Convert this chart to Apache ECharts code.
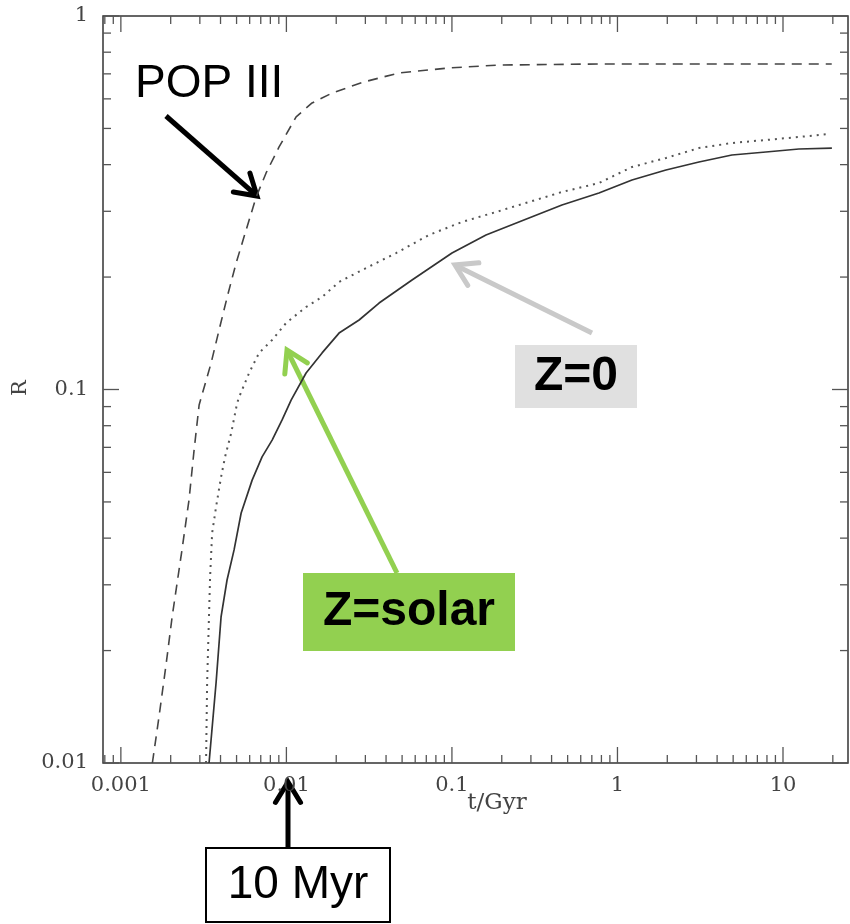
<!DOCTYPE html>
<html>
<head>
<meta charset="utf-8">
<script src="https://cdn.jsdelivr.net/npm/echarts@6/dist/echarts.min.js"></script>
<style>
  html, body { margin: 0; padding: 0; background: #fff; }
  #chart { width: 850px; height: 924px; }
</style>
</head>
<body>
<div id="chart"></div>
<script>
// Returned mass fraction R versus age t (Gyr)
const popT   = [0.00155, 0.00170, 0.00188, 0.00204, 0.00234, 0.00258, 0.00277, 0.00297, 0.00351, 0.00392, 0.00439, 0.00497, 0.00571, 0.00657, 0.00754, 0.00903, 0.01145, 0.01429, 0.0189, 0.0290, 0.0479, 0.0962, 0.192, 0.773, 19.7];
const popR   = [0.0100, 0.0133, 0.0185, 0.0246, 0.0372, 0.0506, 0.0689, 0.0909, 0.1178, 0.1443, 0.1769, 0.2182, 0.2673, 0.3276, 0.380, 0.446, 0.537, 0.585, 0.622, 0.665, 0.704, 0.726, 0.739, 0.744, 0.744];

const solarT = [0.00327, 0.00332, 0.00346, 0.00356, 0.00376, 0.00403, 0.00426, 0.00464, 0.00504, 0.00518, 0.00595, 0.00684, 0.00820, 0.00996, 0.01315, 0.01643, 0.0208, 0.0287, 0.0460, 0.0727, 0.1151, 0.1846, 0.292, 0.462, 0.773, 1.224, 1.963, 3.106, 4.914, 7.885, 12.48, 18.93];
const solarR = [0.0100, 0.0164, 0.0315, 0.0413, 0.0485, 0.0583, 0.0660, 0.0765, 0.0920, 0.0954, 0.1107, 0.1253, 0.1357, 0.1507, 0.1663, 0.1769, 0.1940, 0.2089, 0.2319, 0.2593, 0.2809, 0.2987, 0.3177, 0.3379, 0.3571, 0.3942, 0.4168, 0.4431, 0.4571, 0.4656, 0.4743, 0.4830];

const zeroT  = [0.00341, 0.00376, 0.00403, 0.00438, 0.00483, 0.00533, 0.00621, 0.00713, 0.00820, 0.00942, 0.01068, 0.01315, 0.01643, 0.0208, 0.0275, 0.0363, 0.0574, 0.1001, 0.1606, 0.292, 0.462, 0.773, 1.224, 1.963, 3.106, 4.914, 7.885, 12.48, 19.74];
const zeroR  = [0.0100, 0.0164, 0.0246, 0.0309, 0.0372, 0.0467, 0.0572, 0.0660, 0.0732, 0.0829, 0.0937, 0.1107, 0.1253, 0.1416, 0.1535, 0.1704, 0.1964, 0.2319, 0.2593, 0.2878, 0.3119, 0.3358, 0.3638, 0.3870, 0.4065, 0.4244, 0.4324, 0.4404, 0.4431];

// Axis ranges and decade labels
const xRange = [0.00078, 24.7];
const yRange = [0.01, 1];
const xTickLabels = ['0.001', '0.01', '0.1', '1', '10'];
const yTickLabels = ['0.01', '0.1', '1'];

const pairs = (xs, ys) => xs.map((x, i) => [x, ys[i]]);

// Inward ticks (major at decades, minor at 2..9) drawn on all four sides
function logTicks(lo, hi) {
  const out = [];
  for (let e = Math.floor(Math.log10(lo)); e <= Math.ceil(Math.log10(hi)); e++) {
    for (let m = 1; m <= 9; m++) {
      const v = m * Math.pow(10, e);
      if (v >= lo * 0.999 && v <= hi * 1.001) out.push([v, m === 1 ? 16 : 8]);
    }
  }
  return out;
}
const xTicks = logTicks(xRange[0], xRange[1]).map(d => [d[0], 0.05, d[1]]);
const yTicks = logTicks(yRange[0], yRange[1]).map(d => [0.01, d[0], d[1]]);

const tickStyle = { stroke: '#555', lineWidth: 1.3 };

function decadeLabel(labels, v) {
  const e = Math.round(Math.log10(v));
  const s = labels.find(l => Math.abs(Math.log10(parseFloat(l)) - e) < 1e-6);
  return s || '';
}

function arrow(x1, y1, x2, y2, color, w) {
  const a = Math.atan2(y2 - y1, x2 - x1);
  const L = 24, s = 0.55;
  return {
    type: 'group',
    z: 100,
    children: [
      { type: 'line', shape: { x1: x1, y1: y1, x2: x2 - 2 * Math.cos(a), y2: y2 - 2 * Math.sin(a) },
        style: { stroke: color, lineWidth: w, lineCap: 'butt' } },
      { type: 'polyline',
        shape: { points: [
          [x2 - L * Math.cos(a - s), y2 - L * Math.sin(a - s)],
          [x2, y2],
          [x2 - L * Math.cos(a + s), y2 - L * Math.sin(a + s)]
        ] },
        style: { stroke: color, lineWidth: w, fill: null, lineJoin: 'miter', lineCap: 'round' } }
    ]
  };
}

function boxLabel(x, y, w, h, fill, border, txt, bold) {
  return {
    type: 'group',
    z: 100,
    children: [
      { type: 'rect', shape: { x: x, y: y, width: w, height: h },
        style: { fill: fill, stroke: border || null, lineWidth: border ? 2 : 0 } },
      { type: 'text', x: x + w / 2, y: y + h / 2,
        style: { text: txt, fill: '#000', font: (bold ? 'bold 48px' : '46px') + ' "Liberation Sans", Arial, sans-serif',
                 align: 'center', verticalAlign: 'middle' } }
    ]
  };
}

const axisLabelFont = { fontFamily: '"DejaVu Serif", serif', fontSize: 21, color: '#444' };

const chart = echarts.init(document.getElementById('chart'), null, { renderer: 'canvas' });

chart.setOption({
  animation: false,
  backgroundColor: '#fff',
  grid: { left: 103, top: 16, width: 745, height: 747, show: true, borderColor: '#333', borderWidth: 1.5, backgroundColor: 'transparent' },
  xAxis: {
    type: 'log', logBase: 10, min: xRange[0], max: xRange[1],
    axisLine: { show: false }, axisTick: { show: false }, splitLine: { show: false },
    axisLabel: Object.assign({ margin: 12, showMinLabel: false, showMaxLabel: false,
      formatter: v => decadeLabel(xTickLabels, v) }, axisLabelFont)
  },
  yAxis: {
    type: 'log', logBase: 10, min: yRange[0], max: yRange[1],
    axisLine: { show: false }, axisTick: { show: false }, splitLine: { show: false },
    axisLabel: Object.assign({ margin: 15, formatter: v => decadeLabel(yTickLabels, v) }, axisLabelFont)
  },
  series: [
    {
      name: 'POP III', type: 'line', data: pairs(popT, popR), showSymbol: false, symbol: 'none',
      lineStyle: { color: '#444', width: 1.6, type: [10, 7] }, z: 3
    },
    {
      name: 'Z=solar', type: 'line', data: pairs(solarT, solarR), showSymbol: false, symbol: 'none',
      lineStyle: { color: '#555', width: 2, type: [2, 5] }, z: 3
    },
    {
      name: 'Z=0', type: 'line', data: pairs(zeroT, zeroR), showSymbol: false, symbol: 'none',
      lineStyle: { color: '#333', width: 1.7 }, z: 3
    },
    {
      type: 'custom', data: xTicks, encode: { x: 0, y: 1 }, silent: true, z: 4,
      renderItem: function (params, api) {
        const cs = params.coordSys;
        const x = api.coord([api.value(0), 0.05])[0];
        const len = api.value(2);
        return { type: 'group', children: [
          { type: 'line', shape: { x1: x, y1: cs.y + cs.height, x2: x, y2: cs.y + cs.height - len }, style: tickStyle },
          { type: 'line', shape: { x1: x, y1: cs.y, x2: x, y2: cs.y + len }, style: tickStyle }
        ] };
      }
    },
    {
      type: 'custom', data: yTicks, encode: { x: 0, y: 1 }, silent: true, z: 4,
      renderItem: function (params, api) {
        const cs = params.coordSys;
        const y = api.coord([0.01, api.value(1)])[1];
        const len = api.value(2);
        return { type: 'group', children: [
          { type: 'line', shape: { x1: cs.x, y1: y, x2: cs.x + len, y2: y }, style: tickStyle },
          { type: 'line', shape: { x1: cs.x + cs.width, y1: y, x2: cs.x + cs.width - len, y2: y }, style: tickStyle }
        ] };
      }
    }
  ],
  graphic: [
    // axis titles
    { type: 'text', x: 497, y: 803,
      style: { text: 't/Gyr', fill: '#444', font: '23px "DejaVu Serif", serif', align: 'center', verticalAlign: 'middle' } },
    { type: 'text', x: 21, y: 388, rotation: Math.PI / 2,
      style: { text: 'R', fill: '#444', font: '21px "DejaVu Serif", serif', align: 'center', verticalAlign: 'middle' } },

    // annotations
    { type: 'text', x: 135, y: 84, z: 100,
      style: { text: 'POP III', fill: '#000', font: '46px "Liberation Sans", Arial, sans-serif', align: 'left', verticalAlign: 'middle' } },
    arrow(166, 116, 257, 196, '#000', 5),

    arrow(592, 333, 455, 265, '#c9c9c9', 5),
    boxLabel(515, 345, 122, 63, '#e0e0e0', null, 'Z=0', true),

    arrow(397, 573, 287, 350, '#92d050', 5),
    boxLabel(303, 573, 212, 78, '#92d050', null, 'Z=solar', true),

    arrow(288, 848, 288, 782, '#000', 5),
    boxLabel(206, 848, 184, 74, '#fff', '#000', '10 Myr', false)
  ]
});
</script>
</body>
</html>
